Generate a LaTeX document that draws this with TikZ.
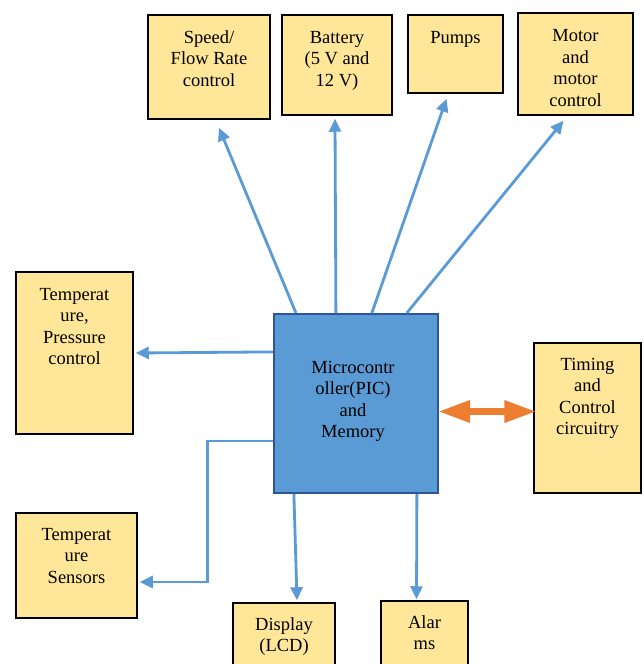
\documentclass[tikz,border=0pt]{standalone}
\usepackage{fontspec}
\setmainfont{Liberation Serif}
\usetikzlibrary{arrows.meta,calc}
\definecolor{boxyel}{HTML}{FFE699}
\definecolor{mcblue}{HTML}{5B9BD5}
\definecolor{mcedge}{HTML}{2F5597}
\definecolor{arrblue}{HTML}{5B9BD5}
\definecolor{arrorange}{HTML}{ED7D31}
\tikzset{
  ybox/.style={draw=black, line width=1.5pt, fill=boxyel, inner sep=0pt},
  mcbox/.style={draw=mcedge, line width=2.2pt, fill=mcblue, inner sep=0pt},
  txt/.style={anchor=north, align=center, inner sep=0pt, font=\fontsize{18.5}{21.5}\selectfont},
  blu/.style={draw=arrblue, line width=2.8pt, -{Triangle[length=13pt,width=12pt]}},
  orng/.style={draw=arrorange, line width=6.5pt, {Triangle[length=32pt,width=21pt]}-{Triangle[length=32pt,width=21pt]}}
}
\begin{document}
\begin{tikzpicture}[x=1pt,y=-1pt]
\useasboundingbox (0,0) rectangle (643,664);
\clip (0,0) rectangle (643,664);
\fill[white] (0,0) rectangle (643,664);
% boxes
\node[ybox, minimum width=122pt, minimum height=104pt] (speed) at (209,67) {};
\node[ybox, minimum width=110pt, minimum height=100pt] (battery) at (337,65) {};
\node[ybox, minimum width=95pt, minimum height=78pt] (pumps) at (455.5,54) {};
\node[ybox, minimum width=115pt, minimum height=102pt] (motor) at (575.5,64) {};
\node[ybox, minimum width=117pt, minimum height=162pt] (tp) at (74.5,353) {};
\node[mcbox, minimum width=164pt, minimum height=179pt] (mc) at (356,403.5) {};
\node[ybox, minimum width=107pt, minimum height=150pt] (tim) at (587.5,418) {};
\node[ybox, minimum width=121pt, minimum height=105pt] (ts) at (76.5,565.5) {};
\node[ybox, minimum width=102pt, minimum height=77pt] (disp) at (284,641.5) {};
\node[ybox, minimum width=87pt, minimum height=79pt] (alarm) at (424.5,640.5) {};
% texts
\node[txt] (speedt) at (209,27.95) {\strut Speed/\\Flow Rate\\control};
\node[txt] (batteryt) at (337,27.95) {\strut Battery\\(5 V and\\12 V)};
\node[txt] (pumpst) at (455.5,27.95) {\strut Pumps};
\node[txt] (motort) at (575.5,26.45) {\strut Motor\\and\\motor\\control};
\node[txt] (tpt) at (74.5,284.95) {\strut Temperat\\ure,\\Pressure\\control};
\node[txt] (mct) at (353,357.95) {\strut Microcontr\\oller(PIC)\\and\\Memory};
\node[txt] (timt) at (587.5,354.95) {\strut Timing\\and\\Control\\circuitry};
\node[txt] (tst) at (76.5,524.95) {\strut Temperat\\ure\\Sensors};
\node[txt] (dispt) at (284,614.95) {\strut Display\\(LCD)};
\node[txt] (alarmt) at (424.5,612.95) {\strut Alar\\ms};
% connectors
\draw[blu] ($(mc.north west)+(23,0)$) -- ($(speed.south)+(10,8)$);
\draw[blu] ($(mc.north west)+(63,0)$) -- ($(battery.south)+(-2,3)$);
\draw[blu] ($(mc.north west)+(99,0)$) -- ($(pumps.south)+(-9,5)$);
\draw[blu] ($(mc.north west)+(134,0)$) -- ($(motor.south)+(-12,5)$);
\draw[blu] ($(mc.north west)+(0,39)$) -- ($(tp.east)+(2,0)$);
\draw[blu] ($(mc.north west)+(0,128)$) -| ($(ts.east)+(70,16.5)$) -- ($(ts.east)+(2,16.5)$);
\draw[blu] ($(mc.south west)+(21,0)$) -- ($(disp.north)+(13,-2)$);
\draw[blu] ($(mc.south west)+(144,0)$) -- ($(alarm.north)+(-8,-1)$);
\draw[orng] ($(mc.east)+(-1,8)$) -- ($(tim.west)+(3,-6.5)$);
\end{tikzpicture}
\end{document}
